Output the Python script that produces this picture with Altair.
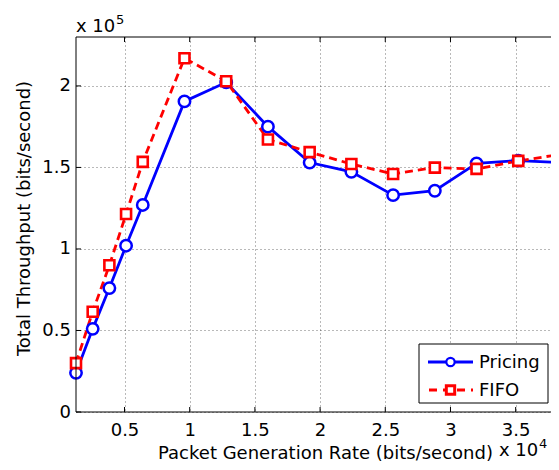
import altair as alt
import pandas as pd

# ---- data ----
rate_bps = [1280, 2560, 3840, 5120, 6400, 9600, 12800, 16000, 19200,
            22400, 25600, 28800, 32000, 35200, 38400]
pricing_1e5 = [0.24, 0.51, 0.76, 1.02, 1.27, 1.905, 2.022, 1.75, 1.53,
               1.473, 1.33, 1.357, 1.525, 1.542, 1.53]
fifo_1e5 = [0.30, 0.615, 0.90, 1.214, 1.534, 2.17, 2.029, 1.671, 1.594,
            1.521, 1.46, 1.499, 1.491, 1.54, 1.58]
x_ticks = [0.5, 1, 1.5, 2, 2.5, 3, 3.5]
y_ticks = [0, 0.5, 1, 1.5, 2]
series_names = ["Pricing", "FIFO"]
x_title = "Packet Generation Rate (bits/second)"
y_title = "Total Throughput (bits/second)"

df = pd.DataFrame({
    "rate": [r / 1e4 for r in rate_bps],
    "pricing": pricing_1e5,
    "fifo": fifo_1e5,
})
one = pd.DataFrame({"k": [0]})

# full axes box would be 484 px wide; the page only shows 475 of it
FULL_W, W, H = 484, 475, 375
XMIN, XMAX_FULL = 0.128, 3.84
XMAX = XMIN + (XMAX_FULL - XMIN) * W / FULL_W
FONT = "DejaVu Sans"
FS = 18
BLUE = "#0000ff"
RED = "#ff0000"

xs = alt.Scale(domain=[XMIN, XMAX], nice=False, zero=False)
ys = alt.Scale(domain=[0, 2.3], nice=False, zero=False)

common = dict(format="~g", grid=True, gridDash=[1, 3], gridColor="#000",
              gridOpacity=0.55, gridWidth=1, ticks=False, tickSize=0, domain=False,
              labelFont=FONT, labelFontSize=FS, labelColor="#000", labelFlush=False,
              titleFont=FONT, titleFontSize=FS, titleFontWeight="normal",
              titleColor="#000", titleBaseline="alphabetic", titleAlign="center")
xaxis = alt.Axis(values=x_ticks, title=x_title, labelPadding=9.5,
                 titleX=249, titleY=46, **common)
yaxis = alt.Axis(values=y_ticks, title=y_title, labelPadding=5.5,
                 titleX=-47, titleY=181, titleAngle=270, **common)


def X(f):
    return alt.X(f, scale=xs, axis=xaxis)


def Y(f):
    return alt.Y(f, scale=ys, axis=yaxis)


base = alt.Chart(df)
blue_line = base.mark_line(color=BLUE, strokeWidth=2.8).encode(
    x=X("rate:Q"), y=Y("pricing:Q"))
blue_pts = base.mark_point(shape="circle", size=130, filled=True, fill="white",
                           stroke=BLUE, strokeWidth=2.5, opacity=1).encode(
    x=X("rate:Q"), y=Y("pricing:Q"))
red_line = base.mark_line(color=RED, strokeWidth=2.8, strokeDash=[8, 5]).encode(
    x=X("rate:Q"), y=Y("fifo:Q"))
red_pts = base.mark_point(shape="square", size=100, filled=True, fill="white",
                          stroke=RED, strokeWidth=2.6, opacity=1).encode(
    x=X("rate:Q"), y=Y("fifo:Q"))

# axes box (top, bottom, left) and inward tick marks
lg = alt.Chart(one)
frame = [
    lg.mark_rule(color="black", strokeWidth=1).encode(
        x=alt.value(0), x2=alt.value(W), y=alt.value(0)),
    lg.mark_rule(color="black", strokeWidth=1).encode(
        x=alt.value(0), x2=alt.value(W), y=alt.value(H)),
    lg.mark_rule(color="black", strokeWidth=1).encode(
        x=alt.value(0), y=alt.value(0), y2=alt.value(H)),
]
xt = alt.Chart(pd.DataFrame({"t": x_ticks}))
yt = alt.Chart(pd.DataFrame({"t": y_ticks}))
ticks = [
    xt.mark_rule(color="black", strokeWidth=1).encode(
        x=X("t:Q"), y=alt.value(H), y2=alt.value(H - 5)),
    xt.mark_rule(color="black", strokeWidth=1).encode(
        x=X("t:Q"), y=alt.value(0), y2=alt.value(5)),
    yt.mark_rule(color="black", strokeWidth=1).encode(
        y=Y("t:Q"), x=alt.value(0), x2=alt.value(5)),
]


def txt(s, x, y, size=FS):
    return alt.Chart(one).mark_text(align="left", baseline="alphabetic", font=FONT,
                                    fontSize=size, color="black").encode(
        x=alt.value(x), y=alt.value(y), text=alt.value(s))


# exponent labels
exps = [txt("x 10", 0, -5.5), txt("5", 40, -13, 13),
        txt("x 10", 423, 419), txt("4", 463, 411, 13)]

# legend
legend = [
    lg.mark_rect(fill="white", stroke="black", strokeWidth=1).encode(
        x=alt.value(343), x2=alt.value(472), y=alt.value(307), y2=alt.value(366)),
    lg.mark_rule(color=BLUE, strokeWidth=2.8).encode(
        x=alt.value(352), x2=alt.value(397), y=alt.value(325)),
    lg.mark_point(shape="circle", size=70, filled=True, fill="white",
                  stroke=BLUE, strokeWidth=2.2, opacity=1).encode(
        x=alt.value(374.5), y=alt.value(325)),
    lg.mark_rule(color=RED, strokeWidth=2.8, strokeDash=[8, 6]).encode(
        x=alt.value(353), x2=alt.value(397), y=alt.value(353)),
    lg.mark_point(shape="square", size=70, filled=True, fill="white",
                  stroke=RED, strokeWidth=3, opacity=1).encode(
        x=alt.value(374.5), y=alt.value(353)),
    txt(series_names[0], 403, 331),
    txt(series_names[1], 403, 359),
]

chart = alt.layer(
    blue_line, red_line, blue_pts, red_pts, *frame, *ticks, *exps, *legend,
).properties(
    width=W, height=H,
    autosize=alt.AutoSizeParams(type="none"),
    padding={"left": 68, "top": 29, "right": 0, "bottom": 50},
    background="white",
).configure_view(stroke="transparent")

chart.save("out.html", embed_options={"renderer": "svg", "actions": False})
